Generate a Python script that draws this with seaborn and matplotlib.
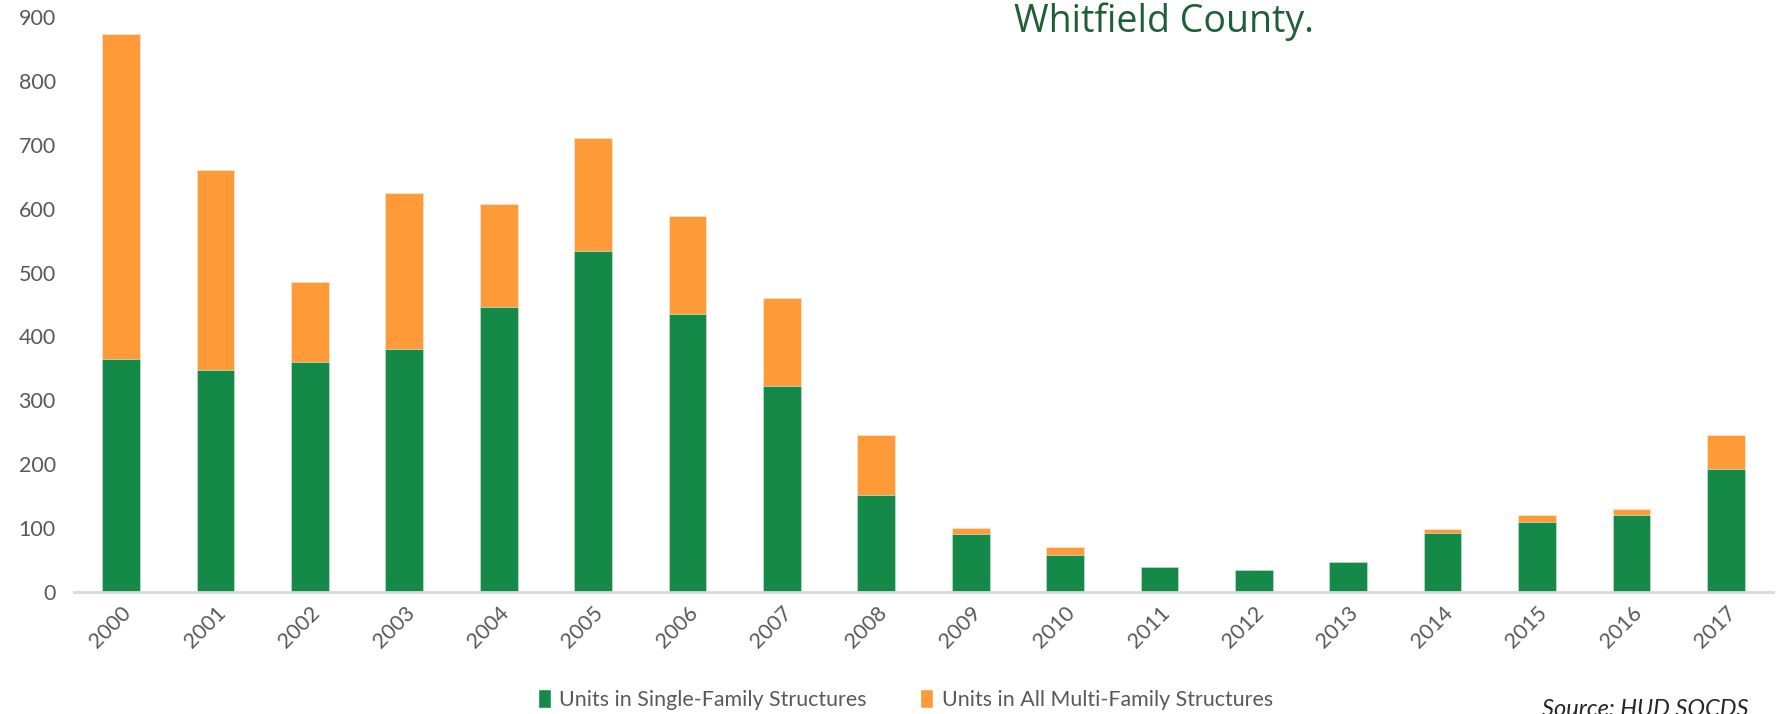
import matplotlib
matplotlib.use("Agg")
import matplotlib.pyplot as plt
from matplotlib.patches import Patch
import seaborn as sns
import pandas as pd

# Building permits by year, Whitfield County
years = [str(y) for y in range(2000, 2018)]
single_family = [365, 347, 360, 380, 446, 534, 435, 322, 152, 91, 58, 39, 34, 47, 93, 110, 121, 192]
multi_family = [509, 314, 125, 245, 162, 177, 153, 138, 94, 9, 12, 0, 0, 0, 5, 11, 9, 53]
y_ticks = [0, 100, 200, 300, 400, 500, 600, 700, 800, 900]

series_labels = ["Units in Single-Family Structures", "Units in All Multi-Family Structures"]
title_text = "Whitfield County."
source_text = "Source: HUD SOCDS"

GREEN = "#158a48"
ORANGE = "#fe9a37"
TEXT_GRAY = "#595959"
TITLE_GREEN = "#1f5f38"

df = pd.DataFrame({"year": years, "single": single_family, "multi": multi_family})
df["total"] = df["single"] + df["multi"]

sns.set_theme(style="white")
plt.rcParams["font.family"] = ["Lato", "DejaVu Sans"]

fig = plt.figure(figsize=(17.81, 7.14), dpi=100)
ax = fig.add_axes([0.0415, 0.1709, 0.954, 0.8053])

# stacked bars: full height in orange, single-family portion drawn over it in green
sns.barplot(data=df, x="year", y="total", color=ORANGE, saturation=1, width=0.4,
            edgecolor="#fbe3cc", linewidth=0.6, ax=ax)
sns.barplot(data=df, x="year", y="single", color=GREEN, saturation=1, width=0.4,
            edgecolor="#b9dcc6", linewidth=0.6, ax=ax)

ax.set_xlim(-0.5, len(years) - 0.5)
ax.set_ylim(0, 900)
ax.set_yticks(y_ticks)
ax.set_yticklabels([str(v) for v in y_ticks])
ax.set_xlabel("")
ax.set_ylabel("")

for side in ["top", "right", "left"]:
    ax.spines[side].set_visible(False)
ax.spines["bottom"].set_color("#d9d9d9")
ax.spines["bottom"].set_linewidth(2)

ax.tick_params(axis="y", length=0, pad=13, labelsize=15.5, labelcolor=TEXT_GRAY)
ax.tick_params(axis="x", length=0, pad=8, labelsize=15.5, labelcolor=TEXT_GRAY)
for lbl in ax.get_xticklabels():
    lbl.set_rotation(45)
    lbl.set_ha("right")
    lbl.set_va("top")
    lbl.set_rotation_mode("anchor")

handles = [Patch(facecolor=GREEN), Patch(facecolor=ORANGE)]
fig.legend(handles, series_labels, loc="center", bbox_to_anchor=(0.5084, 0.02),
           ncol=2, frameon=False, fontsize=15.4, labelcolor=TEXT_GRAY,
           handlelength=0.6, handleheight=1.0, handletextpad=0.4, columnspacing=2.5)

fig.text(0.982, 0.006, source_text, ha="right", va="center", fontsize=17,
         style="italic", color="#262626")

fig.text(0.6537, 0.970, title_text, ha="center", va="center", fontsize=27,
         color=TITLE_GREEN, family=["Open Sans", "DejaVu Sans"])

fig.savefig("out.png", dpi=100)
